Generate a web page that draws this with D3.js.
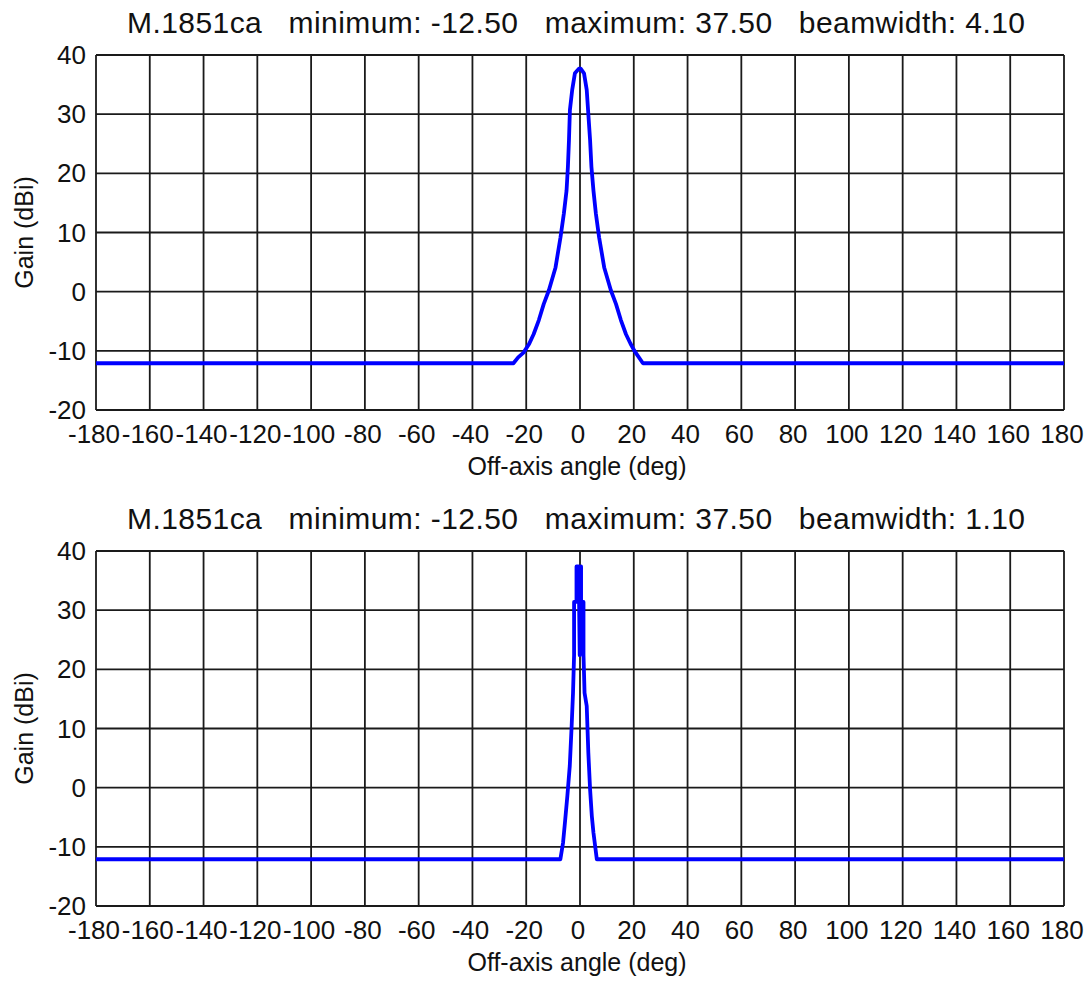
<!DOCTYPE html>
<html>
<head>
<meta charset="utf-8">
<script src="https://cdn.jsdelivr.net/npm/d3@7"></script>
<style>
  body { margin: 0; background: #fff; }
  text { font-family: "Liberation Sans", Arial, sans-serif; fill: #111; }
</style>
</head>
<body>
<div id="chart"></div>
<script>
// tick values
var xTicks = d3.range(-180, 181, 20);
var yTicks = [-20, -10, 0, 10, 20, 30, 40];

// titles
var titles = [
    "M.1851ca   minimum: -12.50   maximum: 37.50   beamwidth: 4.10",
    "M.1851ca   minimum: -12.50   maximum: 37.50   beamwidth: 1.10"
];

// beamwidth 4.10 pattern
var angles1 = [-180, -24.75, -23, -21, -19, -17.25, -15.3, -13.5, -11.6, -9.1, -7.25, -6, -5, -4.5, -4.1, -3.75, -2.9, -1.9, -0.4,
               0.25, 1.5, 2.5, 3, 3.75, 4.25, 5, 5.9, 7.1, 9, 11.5, 13.4, 15.2, 17.1, 18.8, 20.25, 23.4, 180];
var gain1   = [-12.1, -12.1, -11.1, -10.3, -8.9, -7.2, -4.8, -2.1, 0.2, 4.1, 9.2, 13.2, 17.1, 21.1, 25.6, 30.7, 34.1, 36.9, 37.7,
               37.7, 36.9, 34.1, 30.7, 25.6, 21.1, 17.1, 13.2, 9.2, 4.1, 0.2, -2.1, -4.8, -7.2, -8.8, -10, -12.1, -12.1];

// beamwidth 1.10 pattern
var angles2 = [-180, -7.3, -6.3, -5.6, -4.7, -3.8, -3.1, -2.6, -2.2, -2.2, -1.3, -1.3, -0.5, -0.1, 0.4,
               0.4, 1.3, 1.3, 1.7, 2.5, 3.1, 3.75, 4.4, 5, 6.25, 180];
var gain2   = [-12.1, -12.1, -9.3, -5.9, -1.4, 3.7, 10.5, 16, 22.4, 31.4, 31.4, 37.4, 37.4, 22.4, 37.4,
               31.4, 31.4, 22.4, 16, 13.8, 5.9, -0.3, -4.8, -7.6, -12.1, -12.1];

var svgWidth = 1089;
var svgHeight = 981;

var svg = d3.select("#chart")
    .append("svg")
    .attr("width", svgWidth)
    .attr("height", svgHeight);

function drawPanel(top, title, angles, gain) {
    var left = 96, right = 1064, plotTop = top, plotBottom = top + 355;

    var x = d3.scaleLinear().domain([-180, 180]).range([left, right]);
    var y = d3.scaleLinear().domain([-20, 40]).range([plotBottom, plotTop]);

    var g = svg.append("g");

    // grid
    g.selectAll(".vgrid")
        .data(xTicks)
        .enter()
        .append("line")
        .attr("x1", d => x(d)).attr("x2", d => x(d))
        .attr("y1", plotTop).attr("y2", plotBottom)
        .attr("stroke", "#1a1a1a")
        .attr("stroke-width", 1.8);

    g.selectAll(".hgrid")
        .data(yTicks)
        .enter()
        .append("line")
        .attr("x1", left).attr("x2", right)
        .attr("y1", d => y(d)).attr("y2", d => y(d))
        .attr("stroke", "#1a1a1a")
        .attr("stroke-width", 1.8);

    // tick labels
    g.selectAll(".xlab")
        .data(xTicks)
        .enter()
        .append("text")
        .attr("x", d => x(d) - 2)
        .attr("y", plotBottom + 33)
        .attr("text-anchor", "middle")
        .style("font-size", "26px")
        .text(d => d);

    g.selectAll(".ylab")
        .data(yTicks)
        .enter()
        .append("text")
        .attr("x", left - 10)
        .attr("y", d => y(d) + 9)
        .attr("text-anchor", "end")
        .style("font-size", "26px")
        .text(d => d);

    // axis titles
    g.append("text")
        .attr("x", (left + right) / 2 - 3)
        .attr("y", plotBottom + 65)
        .attr("text-anchor", "middle")
        .style("font-size", "25px")
        .text("Off-axis angle (deg)");

    g.append("text")
        .attr("transform", `translate(33, ${(plotTop + plotBottom) / 2}) rotate(-90)`)
        .attr("text-anchor", "middle")
        .style("font-size", "25px")
        .text("Gain (dBi)");

    // title
    g.append("text")
        .attr("x", 576)
        .attr("y", plotTop - 22)
        .attr("text-anchor", "middle")
        .attr("textLength", 898)
        .style("font-size", "30px")
        .style("white-space", "pre")
        .text(title);

    // gain curve
    var pts = angles.map((a, i) => [a, gain[i]]);
    var line = d3.line()
        .x(d => x(d[0]))
        .y(d => y(d[1]));

    g.append("path")
        .datum(pts)
        .attr("d", line)
        .attr("fill", "none")
        .attr("stroke", "#0000ff")
        .attr("stroke-width", 3.8)
        .attr("stroke-linejoin", "round");
}

drawPanel(55, titles[0], angles1, gain1);
drawPanel(551, titles[1], angles2, gain2);
</script>
</body>
</html>
